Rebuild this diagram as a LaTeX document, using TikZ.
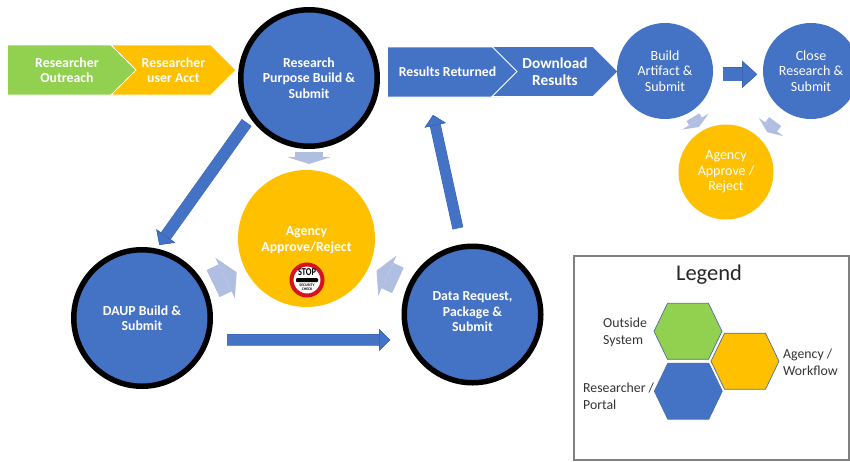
\documentclass[tikz,border=0pt]{standalone}
\usepackage{fontspec}
\setmainfont{Carlito}
\usepackage{tikz}
\usetikzlibrary{arrows.meta}
\usetikzlibrary{shapes.symbols}
\definecolor{portalblue}{HTML}{4472C4}
\definecolor{edgeblue}{HTML}{3A66B4}
\definecolor{softblue}{HTML}{B0BEE1}
\definecolor{agencygold}{HTML}{FFC000}
\definecolor{outsidegreen}{HTML}{92D050}
\definecolor{hexedge}{HTML}{4F6F9F}
\definecolor{stopred}{HTML}{D5121E}
\tikzset{
    whitetext/.style={text=white, align=center, inner sep=0pt, outer sep=0pt,
        font=\fontsize{14}{15.5}\selectfont},
    boldtext/.style={whitetext, font=\fontsize{13.8}{15.5}\selectfont\bfseries},
    ringed/.style={circle, boldtext, fill=portalblue, draw=black, line width=5.5pt,
        minimum size=136.5pt, outer sep=2.75pt},
    goldbig/.style={circle, boldtext, fill=agencygold, minimum size=137pt},
    plainblue/.style={circle, whitetext, fill=portalblue, minimum size=96pt},
    plaingold/.style={circle, whitetext, fill=agencygold, minimum size=95pt},
    chevron/.style={signal, signal to=east, signal pointer angle=90, boldtext, draw=white,
        line width=.8pt, minimum height=50pt},
    flowarrow/.style args={#1/#2/#3}{
        draw=portalblue, line width=#1-.8pt,
        -{Triangle[length=#3, width=#2, fill=portalblue, color=edgeblue, line width=.7pt]},
        preaction={draw=edgeblue, line width=#1,
            -{Triangle[length=#3, width=#2, fill=edgeblue, color=edgeblue, line width=.7pt]}}},
    softarrow/.style args={#1/#2/#3}{
        draw=softblue, line width=#1,
        -{Triangle[length=#3, width=#2, fill=softblue, color=softblue, line width=0pt]}},
    legendtext/.style={align=left, inner sep=0pt, text=black!80,
        font=\fontsize{13.8}{16.5}\selectfont},
    hexcell/.style={draw=hexedge, line width=.7pt},
}

\begin{document}
\begin{tikzpicture}[x=1pt, y=-1pt]
    \useasboundingbox(0, 0) rectangle (850, 461);

    \node[chevron, signal from=nowhere, fill=outsidegreen, minimum width=140pt](outreach) at (65, 70) {};
    \node[chevron, signal from=west, fill=agencygold, minimum width=125pt](useracct) at (173.5, 70) {Researcher\\user Acct};
    \node[chevron, signal from=nowhere, fill=portalblue, minimum width=141pt](returned) at (445.5, 72) {};
    \node[chevron, signal from=west, fill=portalblue, minimum width=126pt,
        font=\fontsize{15.3}{17}\selectfont\bfseries](download) at (555, 71.5) {Download\\Results};
    \node[boldtext](outreachtext) at (67, 70) {Researcher\\Outreach};
    \node[boldtext](returnedtext) at (447.5, 72) {Results Returned};

    \node[ringed](purpose) at (309, 78) {Research\\Purpose Build \&\\Submit};
    \node[goldbig](approve) at (306.5, 238.5) {};
    \node[ringed](daup) at (142, 318) {DAUP Build \&\\Submit};
    \node[ringed](datareq) at (472.5, 314.5) {};
    \node[plainblue](artifact) at (665, 71) {Build\\Artifact \&\\Submit};
    \node[plainblue](closeres) at (811, 71) {Close\\Research \&\\Submit};
    \node[plaingold](approvetwo) at (726, 172) {Agency\\Approve /\\Reject};

    \node[boldtext](approvetext) at (306.5, 240) {Agency\\Approve/Reject};
    \node[boldtext](datatext) at (472.5, 312) {Data Request,\\Package \&\\Submit};
    \node[circle, fill=white, draw=stopred, line width=4pt, minimum size=31pt](stopsign) at (307, 280) {};
    \node[inner sep=0pt, xscale=.8, font=\fontsize{10.5}{10.5}\selectfont\bfseries](stoptext) at (307, 272.5) {STOP};
    \fill[black, rounded corners=1pt](stopsign.center)++(-11, -2) rectangle ++(22, 4);
    \node[inner sep=0pt, align=center, font=\fontsize{3.8}{4.2}\selectfont\bfseries](checktext) at (307, 287) {SECURITY\\CHECK};

    \coordinate(resultsin) at (433, 115);

    \draw[flowarrow=12pt/23pt/11pt, shorten <=6pt, shorten >=4.5pt](purpose.214)--(daup.78);
    \draw[flowarrow=11.5pt/21.5pt/11pt, shorten <=17.5pt, shorten >=16pt](daup.-18)--(datareq.-159);
    \draw[flowarrow=11pt/21.5pt/10.5pt, shorten <=16.5pt](datareq.99)--(resultsin);
    \draw[flowarrow=14pt/27pt/15pt, shorten <=10pt, shorten >=6pt](artifact.-4)--(closeres.184);

    \draw[softarrow=28pt/44pt/7pt, shorten <=3pt, shorten >=6pt](purpose.south)--(purpose.south |- approve.north);
    \draw[softarrow=30pt/45pt/13pt, shorten <=8pt, shorten >=9pt](daup)--(approve);
    \draw[softarrow=28pt/44pt/12pt, shorten <=11pt, shorten >=8.5pt](datareq)--(approve);
    \draw[softarrow=15pt/31pt/6.5pt, shorten <=6pt, shorten >=5pt](artifact)--(approvetwo);
    \draw[softarrow=15pt/31pt/6.5pt, shorten <=14pt, shorten >=10pt](closeres.-125)--(approvetwo.42);

    \draw[black!50, line width=1.5pt](574, 256) rectangle (849, 460);
    \node[inner sep=0pt, text=black!85, font=\fontsize{22.5}{24}\selectfont](legendtitle) at (709, 275) {Legend};
    \foreach \hexx/\hexy/\hexfill in {688/331.3/outsidegreen, 688.3/391.2/portalblue, 745/361.2/agencygold}
        \draw[hexcell, fill=\hexfill](\hexx-34, \hexy)--(\hexx-20.5, \hexy-28)--(\hexx+20.5, \hexy-28)
            --(\hexx+34, \hexy)--(\hexx+20.5, \hexy+28)--(\hexx-20.5, \hexy+28)--cycle;
    \node[legendtext, anchor=west](outsidelabel) at (603, 332.5) {Outside\\System};
    \node[legendtext, anchor=west](portallabel) at (583, 396) {Researcher /\\Portal};
    \node[legendtext, anchor=west](agencylabel) at (783, 362) {Agency /\\Workflow};
\end{tikzpicture}
\end{document}
